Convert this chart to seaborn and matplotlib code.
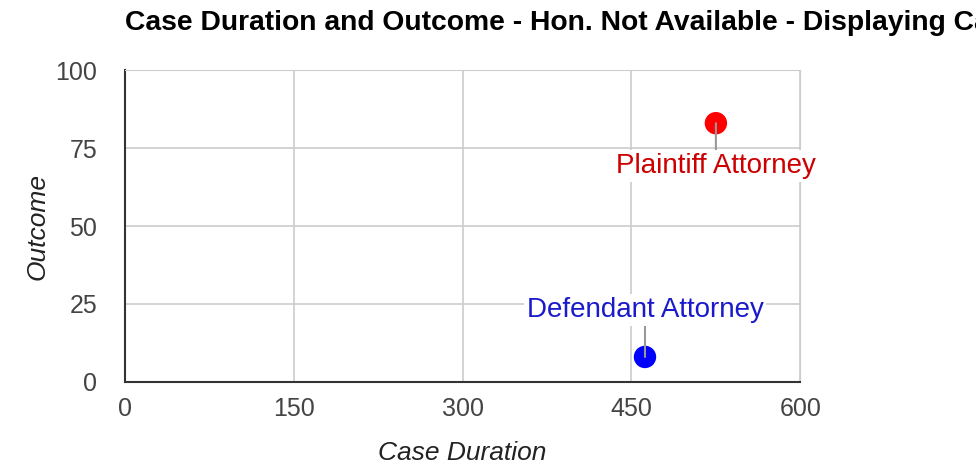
import pandas as pd
import matplotlib
matplotlib.use('Agg')
import matplotlib.pyplot as plt
import seaborn as sns

# Dados
roles = ['Plaintiff Attorney', 'Defendant Attorney']
duration = [525, 462]
outcome = [83, 8]
cores = ['#ff0000', '#0000ff']
cores_rotulo = ['#cc0000', '#1a1acc']

df = pd.DataFrame({'Case Duration': duration, 'Outcome': outcome, 'Role': roles})

sns.set_style('white')
plt.rcParams['font.family'] = ['Liberation Sans', 'DejaVu Sans']

fig = plt.figure(figsize=(9.76, 4.68), dpi=100)
ax = fig.add_axes([0.128, 0.184, 0.692, 0.666])

sns.scatterplot(data=df, x='Case Duration', y='Outcome', hue='Role',
                palette=dict(zip(roles, cores)), s=260, linewidth=0,
                legend=False, ax=ax, zorder=3)

ax.set_xlim(0, 600)
ax.set_ylim(0, 100)
ax.set_xticks([0, 150, 300, 450, 600])
ax.set_yticks([0, 25, 50, 75, 100])
ax.grid(True, color='#cccccc', linewidth=1.2)
ax.set_axisbelow(True)
ax.tick_params(length=0, labelsize=18, labelcolor='#444444')
ax.tick_params(axis='x', pad=11)
ax.tick_params(axis='y', pad=20)

for lado in ['top', 'right']:
    ax.spines[lado].set_color('#cccccc')
for lado in ['left', 'bottom']:
    ax.spines[lado].set_color('#333333')
    ax.spines[lado].set_linewidth(1.5)

ax.set_xlabel('Case Duration', fontsize=19, style='italic', color='#222222', labelpad=14)
ax.set_ylabel('Outcome', fontsize=19, style='italic', color='#222222', labelpad=4)

# Rótulos com linhas de ligação
deslocamentos = [(0, -31), (0, 34)]
for i in range(len(roles)):
    ax.annotate(roles[i], (duration[i], outcome[i]), xytext=deslocamentos[i],
                textcoords='offset points', ha='center', va='center',
                fontsize=20, color=cores_rotulo[i],
                bbox=dict(boxstyle='square,pad=0.1', fc='white', ec='none'),
                arrowprops=dict(arrowstyle='-', color='#999999', lw=1.5,
                                shrinkA=0, shrinkB=0), zorder=4)

fig.text(0.128, 0.951, 'Case Duration and Outcome - Hon. Not Available - Displaying Cases',
         fontsize=20.3, fontweight='bold', ha='left', va='center', color='#000000')

fig.savefig('out.png', dpi=100)
